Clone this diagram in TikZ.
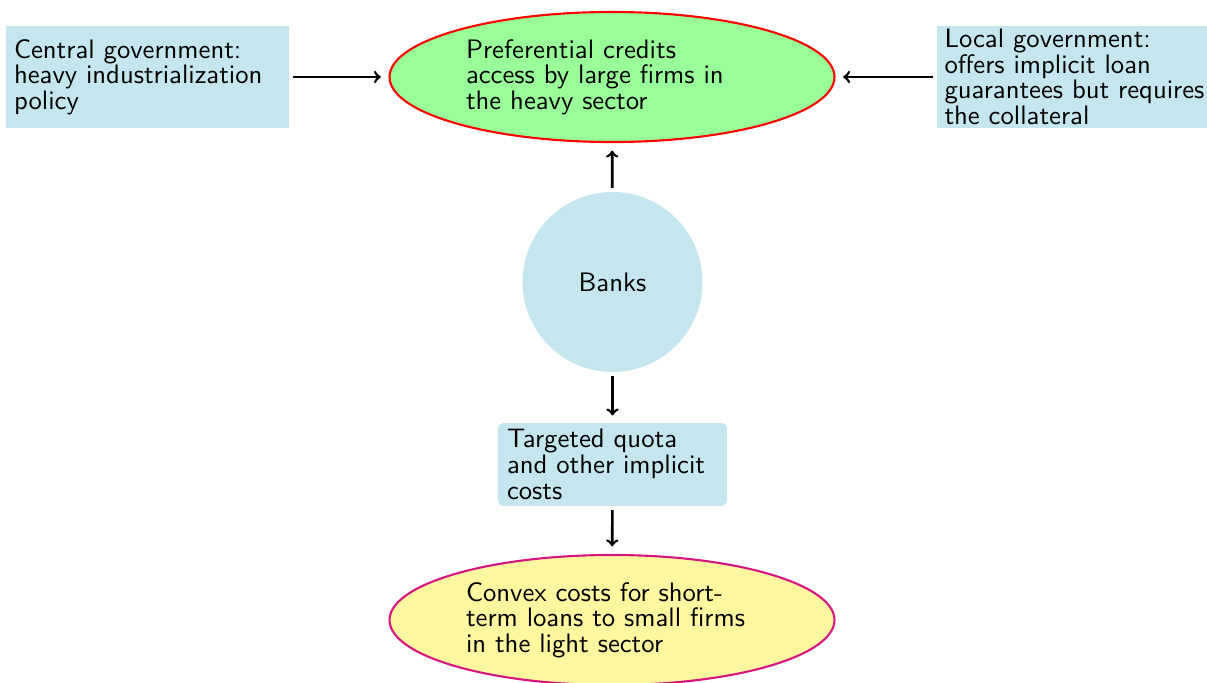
\documentclass[tikz,border=0pt]{standalone}
\usetikzlibrary{shapes.geometric}
\definecolor{boxblue}{RGB}{198,230,239}
\definecolor{heavygreen}{RGB}{153,255,153}
\definecolor{lightyellow}{RGB}{255,247,160}
\definecolor{pinkline}{RGB}{214,22,128}
\begin{document}
\begin{tikzpicture}[scale=1, >=to]
	\tikzset{every node/.style={scale=1.52, font=\fontsize{10}{9.6}\selectfont\sffamily}}
	\tikzset{
		govbox/.style={fill=boxblue, align=left, inner xsep=0.105cm, inner ysep=0.04cm, text width=3.513cm, minimum height=1.355cm},
		ellbox/.style={ellipse, line width=1.2pt, align=left, inner sep=0pt, text width=3.842cm, minimum width=5.855cm, minimum height=1.711cm},
		flow/.style={->, line width=1.5pt, shorten >=4pt, shorten <=2pt}
	}
	\useasboundingbox (0,0) rectangle (24.14,13.64);
	% --- 1. Hàng trên ---
	\node[ellbox, draw=red, fill=heavygreen] (credit) at (12.24,12.10) {Preferential credits\\access by large firms in\\the heavy sector};
	\node[govbox] (central) at (2.95,12.10) {Central government:\\heavy industrialization\\policy};
	\node[govbox, anchor=west] (local) at (18.72,12.10) {Local government:\\offers implicit loan\\guarantees but requires\\the collateral};
	% --- 2. Ngân hàng và chi phí ---
	\node[circle, fill=boxblue, inner sep=0pt, minimum size=2.368cm] (banks) at (12.25,8.00) {Banks};
	\node[fill=boxblue, rounded corners=0.105cm, align=left, inner xsep=0.118cm, inner ysep=0.03cm, text width=2.776cm, minimum height=1.092cm] (quota) at (12.25,4.35) {Targeted quota\\and other implicit\\costs};
	\node[ellbox, draw=pinkline, fill=lightyellow] (convex) at (12.24,1.24) {Convex costs for short-\\term loans to small firms\\in the light sector};
	% --- 3. Mũi tên ---
	\draw[flow] (central.east) -- (credit.west);
	\draw[flow] (local.west) -- (credit.east);
	\draw[flow] (banks) -- (credit);
	\draw[flow] (banks) -- (quota);
	\draw[flow] (quota) -- (convex);
\end{tikzpicture}
\end{document}
